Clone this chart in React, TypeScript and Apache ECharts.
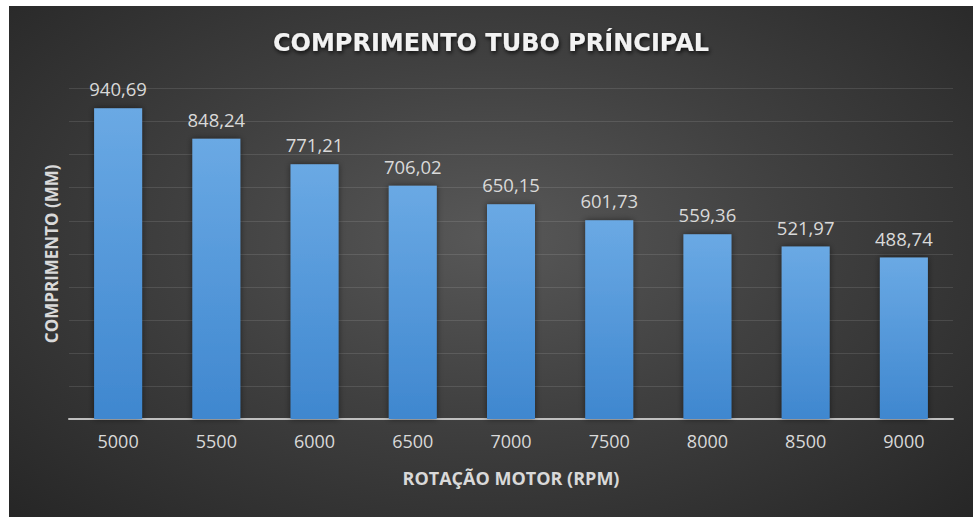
import React, { useEffect, useRef } from "react";
import * as echarts from "echarts";

const categories = ["5000", "5500", "6000", "6500", "7000", "7500", "8000", "8500", "9000"];
const values = [940.69, 848.24, 771.21, 706.02, 650.15, 601.73, 559.36, 521.97, 488.74];
const yMin = 0;
const yMax = 1000;
const yInterval = 100;

export default function App() {
  const ref = useRef<HTMLDivElement>(null);
  useEffect(() => {
    if (!ref.current) return;
    const chart = echarts.init(ref.current, undefined, { renderer: "svg" });
    chart.setOption({
      animation: false,
      backgroundColor: "transparent",
      title: {
        text: "COMPRIMENTO TUBO PRÍNCIPAL",
        left: "center",
        top: 20,
        textStyle: {
          fontFamily: "DejaVu Sans",
          fontWeight: "bold",
          fontSize: 24,
          color: "#f2f2f2",
          textShadowColor: "rgba(0,0,0,0.8)",
          textShadowBlur: 4,
          textShadowOffsetX: 1,
          textShadowOffsetY: 2,
        },
      },
      grid: { left: 60, right: 20, top: 82.6, bottom: 98, containLabel: false },
      xAxis: {
        type: "category",
        data: categories,
        name: "ROTAÇÃO MOTOR (RPM)",
        nameLocation: "middle",
        nameGap: 50,
        nameTextStyle: {
          fontFamily: "Open Sans",
          fontWeight: "bold",
          fontSize: 18,
          color: "#d9d9d9",
        },
        axisLine: { show: true, lineStyle: { color: "#bfbfbf", width: 2 } },
        axisTick: { show: false },
        axisLabel: {
          margin: 13,
          fontFamily: "Open Sans",
          fontSize: 18,
          color: "#d9d9d9",
        },
      },
      yAxis: {
        type: "value",
        min: yMin,
        max: yMax,
        interval: yInterval,
        name: "COMPRIMENTO (MM)",
        nameLocation: "middle",
        nameGap: 9,
        nameTextStyle: {
          fontFamily: "Open Sans",
          fontWeight: "bold",
          fontSize: 17,
          color: "#d9d9d9",
        },
        axisLine: { show: false },
        axisTick: { show: false },
        axisLabel: { show: false },
        splitLine: { show: true, lineStyle: { color: "rgba(255,255,255,0.11)", width: 1 } },
      },
      series: [
        {
          type: "bar",
          data: values,
          barWidth: 48,
          itemStyle: {
            color: new echarts.graphic.LinearGradient(0, 0, 0, 1, [
              { offset: 0, color: "#6aa9e4" },
              { offset: 1, color: "#3f87cf" },
            ]),
            shadowColor: "rgba(0,0,0,0.5)",
            shadowBlur: 6,
            shadowOffsetX: 0,
            shadowOffsetY: 0,
          },
          label: {
            show: true,
            position: "top",
            distance: 10,
            fontFamily: "Open Sans",
            fontSize: 18.5,
            color: "#d9d9d9",
            formatter: (p: any) => p.value.toFixed(2).replace(".", ","),
          },
        },
      ],
    });
    return () => chart.dispose();
  }, []);
  return (
    <div style={{ position: "absolute", left: 0, top: 0, width: 973, height: 517, background: "#ffffff", overflow: "hidden" }}>
      <div
        ref={ref}
        style={{
          position: "absolute",
          left: 9,
          top: 6,
          width: 964,
          height: 511,
          background: "radial-gradient(ellipse at 50% 45%, #585858 0%, #404040 45%, #262626 100%)",
        }}
      />
    </div>
  );
}
